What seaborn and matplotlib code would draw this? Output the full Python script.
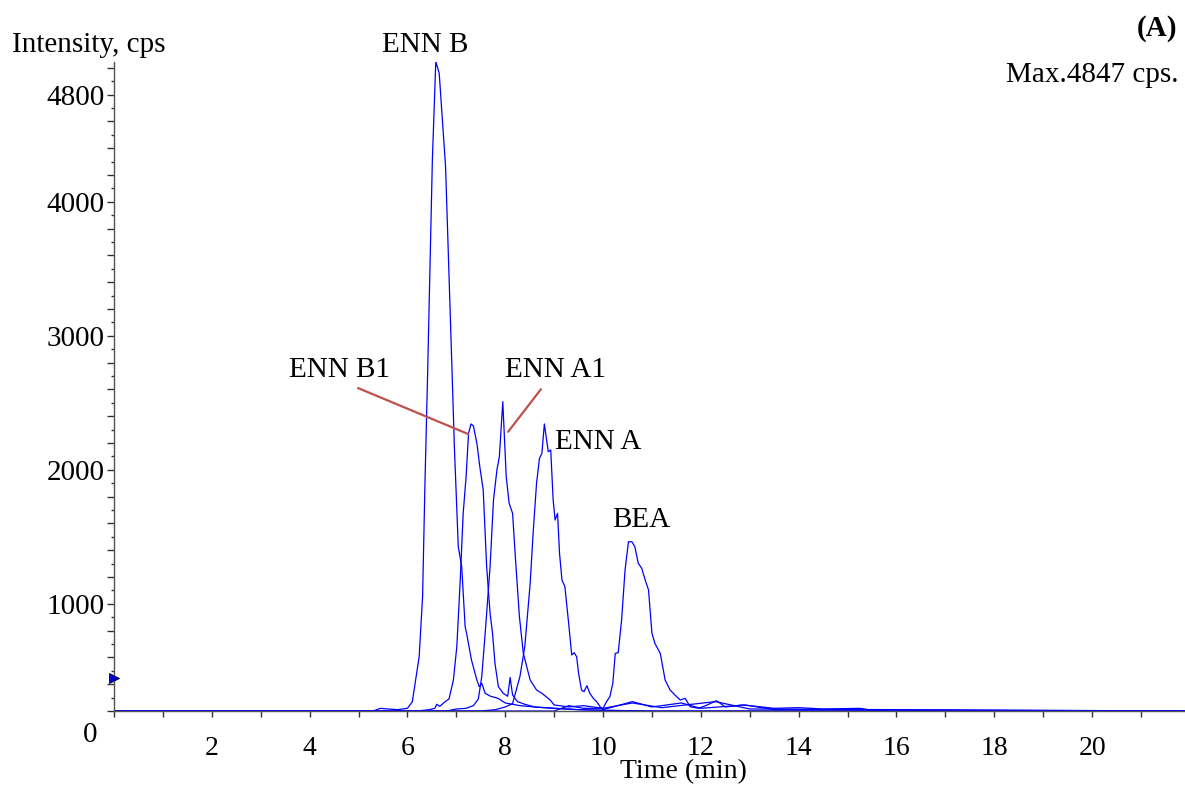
import numpy as np
import pandas as pd
import matplotlib
matplotlib.use("Agg")
import matplotlib.pyplot as plt
from matplotlib.ticker import FixedLocator, MultipleLocator, FuncFormatter
import seaborn as sns

# Extracted-ion chromatograms (time in min, intensity in cps above baseline)
enn_b_t = [0, 5.3, 5.45, 5.6, 5.8, 6.00, 6.10, 6.24, 6.31, 6.36, 6.41, 6.51, 6.58, 6.65,
           6.78, 6.92, 6.96, 7.04, 7.11, 7.18, 7.21, 7.31, 7.42, 7.47, 7.52, 7.59, 7.70,
           7.85, 8.00, 8.30, 8.60, 9.00, 9.50, 10.0, 11.0, 22.0]
enn_b_i = [0, 0, 20, 15, 10, 20, 69, 405, 853, 1724, 2470, 4112, 4847, 4758,
           4062, 2448, 1972, 1226, 1077, 629, 580, 380, 231, 181, 207, 132, 110,
           95, 60, 40, 30, 20, 10, 5, 0, 0]

enn_b1_t = [0, 6.2, 6.45, 6.56, 6.60, 6.66, 6.77, 6.85, 6.94, 7.01, 7.08, 7.14, 7.20,
            7.25, 7.30, 7.35, 7.42, 7.48, 7.55, 7.62, 7.69, 7.74, 7.79, 7.86, 7.96,
            8.05, 8.10, 8.15, 8.25, 8.40, 8.60, 9.00, 9.50, 10.0, 11.0, 22.0]
enn_b1_i = [0, 0, 10, 20, 50, 35, 69, 90, 231, 480, 978, 1475, 1750,
            2072, 2142, 2127, 1998, 1823, 1649, 1077, 729, 580, 356, 181, 132,
            110, 250, 120, 70, 50, 30, 20, 10, 5, 0, 0]

enn_a1_t = [0, 6.8, 7.0, 7.2, 7.35, 7.45, 7.52, 7.59, 7.69, 7.76, 7.83, 7.88, 7.95,
            8.02, 8.08, 8.15, 8.22, 8.29, 8.37, 8.51, 8.64, 8.75, 8.92, 9.00, 9.30,
            9.60, 10.0, 10.6, 11.2, 12.3, 13.0, 22.0]
enn_a1_i = [0, 0, 15, 20, 40, 90, 256, 580, 1077, 1575, 1799, 1898, 2308,
            1749, 1550, 1475, 1077, 704, 430, 231, 157, 132, 82, 45, 30,
            40, 20, 60, 25, 70, 15, 0]

enn_a_t = [0, 7.5, 7.8, 8.0, 8.15, 8.30, 8.40, 8.51, 8.57, 8.64, 8.70, 8.75, 8.80,
           8.88, 8.93, 8.98, 9.02, 9.07, 9.11, 9.16, 9.22, 9.29, 9.36, 9.41, 9.46,
           9.50, 9.56, 9.61, 9.67, 9.73, 9.80, 9.87, 9.94, 10.0, 10.3, 10.6, 11.0,
           11.6, 12.0, 12.9, 13.5, 22.0]
enn_a_i = [0, 0, 10, 30, 55, 256, 480, 953, 1326, 1699, 1886, 1923, 2142,
           1935, 1948, 1575, 1425, 1475, 1177, 978, 928, 679, 418, 435, 405,
           281, 157, 144, 189, 132, 95, 69, 32, 10, 40, 70, 30,
           60, 20, 45, 10, 0]

bea_t = [0, 9.0, 9.3, 9.6, 10.00, 10.07, 10.14, 10.20, 10.25, 10.31, 10.38, 10.45,
         10.52, 10.59, 10.65, 10.72, 10.79, 10.86, 10.93, 11.00, 11.06, 11.17, 11.27,
         11.37, 11.47, 11.58, 11.68, 11.78, 11.95, 12.10, 12.32, 12.50, 12.86, 13.07,
         13.5, 14.0, 14.5, 15.26, 15.5, 22.0]
bea_i = [0, 0, 40, 20, 20, 69, 107, 207, 430, 435, 679, 1052,
         1263, 1263, 1226, 1102, 1065, 980, 903, 580, 505, 430, 231,
         157, 119, 82, 95, 32, 20, 40, 77, 30, 45, 37,
         20, 25, 15, 20, 5, 0]

traces = {"ENN B": (enn_b_t, enn_b_i), "ENN B1": (enn_b1_t, enn_b1_i),
          "ENN A1": (enn_a1_t, enn_a1_i), "ENN A": (enn_a_t, enn_a_i),
          "BEA": (bea_t, bea_i)}

# Peak labels: (name, time, intensity above baseline)
label_names = ["ENN B", "ENN B1", "ENN A1", "ENN A", "BEA"]
label_t = [6.36, 4.62, 9.02, 9.90, 10.78]
label_i = [4970, 2545, 2545, 2007, 1425]

# Leader lines for the co-eluting pair: (start t, start I, end t, end I)
leader_b1 = (4.99, 2410, 7.24, 2067)
leader_a1 = (8.73, 2401, 8.06, 2084)

y_offset = 200          # bottom of the intensity axis
max_intensity = 4847
marker_level = 246      # threshold marker on the intensity axis

y_labels = [1000, 2000, 3000, 4000, 4800]
x_labels = [2, 4, 6, 8, 10, 12, 14, 16, 18, 20]

rows = []
for name, (t, i) in traces.items():
    for tv, iv in zip(t, i):
        rows.append({"trace": name, "time": tv, "intensity": iv + y_offset})
df = pd.DataFrame(rows)

sns.set_style("ticks")
plt.rcParams["font.family"] = ["Liberation Serif", "DejaVu Serif"]
plt.rcParams["text.color"] = "black"
plt.rcParams["xtick.color"] = "black"
plt.rcParams["ytick.color"] = "black"
FS = 21

fig = plt.figure(figsize=(11.85, 7.85), dpi=100)
ax = fig.add_axes([114 / 1185, (785 - 711) / 785, 1 - 114 / 1185, (711 - 62) / 785])

sns.lineplot(data=df, x="time", y="intensity", units="trace", estimator=None,
             color="#0000ff", linewidth=0.9, ax=ax, sort=False)

ax.set_xlim(0, 21.9)
ax.set_ylim(y_offset, 5043)
ax.set_xlabel("")
ax.set_ylabel("")

for s in ["top", "right"]:
    ax.spines[s].set_visible(False)
for s in ["left", "bottom"]:
    ax.spines[s].set_color("#555555")
    ax.spines[s].set_linewidth(1.0)

ax.xaxis.set_major_locator(FixedLocator(x_labels))
ax.xaxis.set_minor_locator(MultipleLocator(1))
ax.yaxis.set_major_locator(MultipleLocator(200))
ax.yaxis.set_minor_locator(MultipleLocator(100))
ax.yaxis.set_major_formatter(FuncFormatter(lambda v, p: f"{int(round(v))}" if int(round(v)) in y_labels else ""))

ax.tick_params(axis="x", which="major", length=4, width=1, color="#333333", pad=14, labelsize=20,
               labelcolor="black")
ax.tick_params(axis="x", which="minor", length=4, width=1, color="#333333")
ax.tick_params(axis="y", which="major", length=5, width=1, color="#333333", pad=2, labelsize=FS,
               labelcolor="black")
ax.tick_params(axis="y", which="minor", length=2.5, width=1, color="#333333")

ax.plot([0], [marker_level + y_offset], marker=">", color="#0000cc", markeredgecolor="#000044",
        markeredgewidth=0.6, markersize=6.5, clip_on=False, zorder=5)

for name, t, i in zip(label_names, label_t, label_i):
    ax.text(t, i + y_offset, name, ha="center", va="center", fontsize=FS, clip_on=False)

for (t0, i0, t1, i1) in [leader_b1, leader_a1]:
    ax.plot([t0, t1], [i0 + y_offset, i1 + y_offset], color="#c0504d", linewidth=1.6)

fig.text(12 / 1185, 1 - 45 / 785, "Intensity, cps", ha="left", va="center", fontsize=FS)
fig.text(1177 / 1185, 1 - 28 / 785, "(A)", ha="right", va="center", fontsize=FS, fontweight="bold")
fig.text(1178 / 1185, 1 - 75 / 785, f"Max.{max_intensity} cps.", ha="right", va="center", fontsize=FS)
fig.text(90 / 1185, 1 - 735 / 785, "0", ha="center", va="center", fontsize=FS)
fig.text(683 / 1185, 1 - 772 / 785, "Time (min)", ha="center", va="center", fontsize=20)

fig.savefig("out.png", dpi=100)
